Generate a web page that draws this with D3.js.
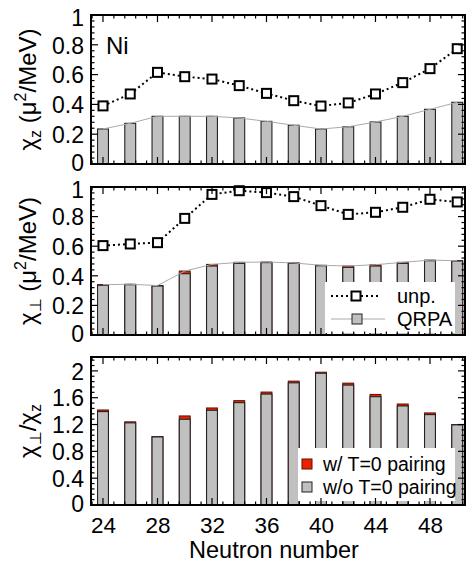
<!DOCTYPE html>
<html>
<head>
<meta charset="utf-8">
<script src="https://cdn.jsdelivr.net/npm/d3@7/dist/d3.min.js"></script>
<style>
html,body{margin:0;padding:0;background:#fff;}
svg{display:block;font-family:"Liberation Sans",Arial,Helvetica,sans-serif;}
</style>
</head>
<body>
<svg id="chart" width="469" height="565"></svg>
<script>
// ---- data ----
const neutrons = [24,26,28,30,32,34,36,38,40,42,44,46,48,50];
const chiZUnp   = [0.39,0.47,0.615,0.586,0.57,0.526,0.474,0.425,0.389,0.41,0.47,0.546,0.64,0.774];
const chiZQrpa  = [0.235,0.273,0.32,0.32,0.32,0.309,0.286,0.26,0.235,0.25,0.282,0.32,0.367,0.414];
const chiPerpUnp  = [0.604,0.615,0.624,0.788,0.95,0.975,0.962,0.935,0.874,0.815,0.829,0.863,0.917,0.899];
const chiPerpNoT0 = [0.336,0.340,0.331,0.414,0.466,0.484,0.489,0.484,0.468,0.457,0.466,0.484,0.502,0.500];
const chiPerpT0   = [0.340,0.343,0.334,0.432,0.477,0.491,0.493,0.487,0.471,0.466,0.475,0.491,0.506,0.502];
const ratioNoT0 = [1.393,1.225,1.015,1.279,1.412,1.526,1.654,1.822,1.965,1.788,1.615,1.477,1.348,1.195];
const ratioT0   = [1.417,1.240,1.020,1.328,1.447,1.556,1.684,1.847,1.980,1.817,1.649,1.506,1.373,1.200];
const xTickLabels = [24,28,32,36,40,44,48];
const chiTickLabels = [0,0.2,0.4,0.6,0.8,1];
const ratioTickLabels = [0,0.4,0.8,1.2,1.6,2];
const legendChi = ["unp.","QRPA"];
const legendRatio = ["w/ T=0 pairing","w/o T=0 pairing"];

// ---- layout ----
const svg = d3.select("#chart");
const left = 91, right = 465;
const x = d3.scaleLinear().domain([23.12, 50.57]).range([left, right]);
const barW = 0.8*(x(1)-x(0));
const GRAY = "#c0c0c0", RED = "#ee2200";

const panels = [
  {top:15, bottom:164, max:1, ticks:chiTickLabels, minor:0.04},
  {top:187, bottom:335, max:1, ticks:chiTickLabels, minor:0.04},
  {top:357, bottom:505, max:2.207, ticks:ratioTickLabels, minor:0.08}
];
panels.forEach(p => { p.y = d3.scaleLinear().domain([0,p.max]).range([p.bottom,p.top]); });

const data = neutrons.map((n,i)=>({n, zU:chiZUnp[i], zQ:chiZQrpa[i], pU:chiPerpUnp[i], pN:chiPerpNoT0[i], pT:chiPerpT0[i], rN:ratioNoT0[i], rT:ratioT0[i]}));

function drawBars(g, p, getGray, getRed){
  const gb = g.append("g");
  if(getRed){
    gb.selectAll("rect.red").data(data).join("rect").attr("class","red")
      .attr("x",d=>x(d.n)-barW/2).attr("width",barW)
      .attr("y",d=>p.y(getRed(d))).attr("height",d=>p.y(0)-p.y(getRed(d)))
      .attr("fill",RED).attr("stroke","#5a1000").attr("stroke-width",1);
  }
  gb.selectAll("rect.gray").data(data).join("rect").attr("class","gray")
    .attr("x",d=>x(d.n)-barW/2).attr("width",barW)
    .attr("y",d=>p.y(getGray(d))).attr("height",d=>p.y(0)-p.y(getGray(d)))
    .attr("fill",GRAY).attr("stroke","#222").attr("stroke-width",1.1);
}
function drawGrayLine(g,p,get){
  g.append("path").datum(data)
    .attr("d",d3.line().x(d=>x(d.n)).y(d=>p.y(get(d))))
    .attr("fill","none").attr("stroke","#aaa").attr("stroke-width",1);
}
function drawUnp(g,p,get){
  g.append("path").datum(data)
    .attr("d",d3.line().x(d=>x(d.n)).y(d=>p.y(get(d))))
    .attr("fill","none").attr("stroke","#000").attr("stroke-width",2).attr("stroke-dasharray","2,3");
  g.selectAll("rect.sq").data(data).join("rect").attr("class","sq")
    .attr("x",d=>x(d.n)-4.5).attr("y",d=>p.y(get(d))-4.5).attr("width",9).attr("height",9)
    .attr("fill","#fff").attr("stroke","#000").attr("stroke-width",2);
}

function drawFrame(g,p){
  const yMinor = d3.range(0, p.max+1e-9, p.minor);
  const xMinor = d3.range(23.2, 50.6, 0.8);
  const tk = g.append("g").attr("stroke","#000").attr("stroke-width",1.2);
  xMinor.forEach(v=>{
    const major = xTickLabels.includes(Math.round(v*10)/10);
    const L = major?7:3.5;
    const xx = x(v);
    tk.append("line").attr("x1",xx).attr("x2",xx).attr("y1",p.bottom).attr("y2",p.bottom-L);
    tk.append("line").attr("x1",xx).attr("x2",xx).attr("y1",p.top).attr("y2",p.top+L);
  });
  yMinor.forEach(v=>{
    const major = p.ticks.some(t=>Math.abs(t-v)<1e-6);
    const L = major?7:3.5;
    const yy = p.y(v);
    tk.append("line").attr("x1",left).attr("x2",left+L).attr("y1",yy).attr("y2",yy);
    tk.append("line").attr("x1",right).attr("x2",right-L).attr("y1",yy).attr("y2",yy);
  });
  g.append("rect").attr("x",left).attr("y",p.top).attr("width",right-left).attr("height",p.bottom-p.top)
    .attr("fill","none").attr("stroke","#000").attr("stroke-width",2);
  const ax = d3.axisLeft(p.y).tickValues(p.ticks).tickFormat(d3.format("")).tickSize(0).tickPadding(6);
  const a = g.append("g").attr("transform",`translate(${left-1},0)`).call(ax);
  a.select(".domain").remove();
  const top = p.ticks[p.ticks.length-1];
  a.selectAll("text").attr("font-size",23).attr("font-family","Liberation Sans, Arial, sans-serif").attr("fill","#000")
    .attr("dy","0.36em")
    .attr("y", d => d===0 ? -2 : (d===top && p.max===1 ? 2 : 0));
}

// panel 1
{
  const p = panels[0]; const g = svg.append("g");
  drawBars(g,p,d=>d.zQ,null);
  drawGrayLine(g,p,d=>d.zQ);
  drawUnp(g,p,d=>d.zU);
  drawFrame(g,p);
  g.append("text").attr("x",106).attr("y",54).attr("font-size",24).text("Ni");
}
// panel 2
{
  const p = panels[1]; const g = svg.append("g");
  drawBars(g,p,d=>d.pN,d=>d.pT);
  drawGrayLine(g,p,d=>d.pT);
  drawUnp(g,p,d=>d.pU);
  const lg = g.append("g");
  lg.append("rect").attr("x",325).attr("y",282).attr("width",130).attr("height",51).attr("fill","#fff");
  lg.append("line").attr("x1",331).attr("x2",381).attr("y1",296).attr("y2",296)
    .attr("stroke","#000").attr("stroke-width",2).attr("stroke-dasharray","2,3");
  lg.append("rect").attr("x",351.5).attr("y",291.5).attr("width",9).attr("height",9)
    .attr("fill","#fff").attr("stroke","#000").attr("stroke-width",2);
  lg.append("line").attr("x1",331).attr("x2",385).attr("y1",319).attr("y2",319)
    .attr("stroke","#aaa").attr("stroke-width",1);
  lg.append("rect").attr("x",352).attr("y",314).attr("width",10).attr("height",10)
    .attr("fill",GRAY).attr("stroke","#222").attr("stroke-width",1);
  lg.append("text").attr("x",397).attr("y",303).attr("font-size",20).text(legendChi[0]);
  lg.append("text").attr("x",397).attr("y",326).attr("font-size",20).text(legendChi[1]);
  drawFrame(g,p);
}
// panel 3
{
  const p = panels[2]; const g = svg.append("g");
  drawBars(g,p,d=>d.rN,d=>d.rT);
  const lg = g.append("g");
  lg.append("rect").attr("x",298).attr("y",448).attr("width",157).attr("height",53).attr("fill","#fff");
  lg.append("rect").attr("x",302).attr("y",459).attr("width",10).attr("height",10)
    .attr("fill",RED).attr("stroke","#5a1000").attr("stroke-width",1);
  lg.append("rect").attr("x",302).attr("y",482).attr("width",10).attr("height",10)
    .attr("fill",GRAY).attr("stroke","#222").attr("stroke-width",1);
  lg.append("text").attr("x",323).attr("y",471).attr("font-size",19.5).text(legendRatio[0]);
  lg.append("text").attr("x",323).attr("y",494).attr("font-size",19.5).text(legendRatio[1]);
  drawFrame(g,p);
  const ax = d3.axisBottom(x).tickValues(xTickLabels).tickSize(0).tickPadding(0);
  const a = g.append("g").attr("transform",`translate(0,${p.bottom})`).call(ax);
  a.select(".domain").remove();
  a.selectAll("text").attr("font-size",22.5).attr("font-family","Liberation Sans, Arial, sans-serif").attr("fill","#000")
    .attr("dy",null).attr("y",28);
  svg.append("text").attr("x",(left+right)/2-4).attr("y",558).attr("text-anchor","middle").attr("font-size",23.5).text("Neutron number");
}

// y titles
function yTitle(cy, parts){
  const t = svg.append("text").attr("transform",`translate(36,${cy}) rotate(-90)`).attr("text-anchor","middle").attr("font-size",24);
  parts.forEach(pt=>{
    const ts = t.append("tspan").text(pt.s);
    if(pt.sub){ ts.attr("font-size",16).attr("dy",5); }
    else if(pt.sup){ ts.attr("font-size",16).attr("dy",-10); }
    else if(pt.back){ ts.attr("dy",pt.back); }
  });
}
yTitle((panels[0].top+panels[0].bottom)/2, [{s:"χ"},{s:"z",sub:true},{s:" (μ",back:-5},{s:"2",sup:true},{s:"/MeV)",back:10}]);
yTitle((panels[1].top+panels[1].bottom)/2, [{s:"χ"},{s:"⊥",sub:true},{s:" (μ",back:-5},{s:"2",sup:true},{s:"/MeV)",back:10}]);
yTitle((panels[2].top+panels[2].bottom)/2, [{s:"χ"},{s:"⊥",sub:true},{s:"/χ",back:-5},{s:"z",sub:true}]);
</script>
</body>
</html>
